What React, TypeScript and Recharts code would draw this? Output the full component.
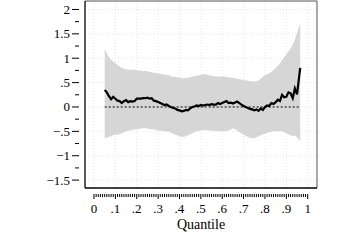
import React from 'react';
import { ComposedChart, Area, Line, XAxis, YAxis, CartesianGrid, ReferenceLine } from 'recharts';

const quantiles = [0.05,0.06,0.07,0.08,0.09,0.10,0.11,0.12,0.13,0.14,0.15,0.16,0.17,0.18,0.19,0.20,0.21,0.22,0.23,0.24,0.25,0.26,0.27,0.28,0.29,0.30,0.31,0.32,0.33,0.34,0.35,0.36,0.37,0.38,0.39,0.40,0.41,0.42,0.43,0.44,0.45,0.46,0.47,0.48,0.49,0.50,0.51,0.52,0.53,0.54,0.55,0.56,0.57,0.58,0.59,0.60,0.61,0.62,0.63,0.64,0.65,0.66,0.67,0.68,0.69,0.70,0.71,0.72,0.73,0.74,0.75,0.76,0.77,0.78,0.79,0.80,0.81,0.82,0.83,0.84,0.85,0.86,0.87,0.88,0.89,0.90,0.91,0.92,0.93,0.94,0.95,0.965];

const estimate = [0.35,0.30,0.22,0.16,0.21,0.17,0.13,0.12,0.08,0.12,0.14,0.10,0.12,0.11,0.12,0.17,0.17,0.17,0.18,0.18,0.19,0.17,0.18,0.13,0.12,0.10,0.08,0.06,0.04,0.05,0.02,0.00,-0.02,-0.03,-0.06,-0.07,-0.09,-0.08,-0.06,-0.07,-0.03,0.00,0.01,0.03,0.02,0.04,0.03,0.04,0.05,0.04,0.06,0.05,0.05,0.08,0.06,0.08,0.10,0.12,0.08,0.09,0.07,0.09,0.11,0.08,0.05,0.02,0.00,-0.02,-0.04,-0.05,-0.07,-0.05,-0.08,-0.03,-0.06,0.00,0.03,0.02,0.08,0.06,0.10,0.15,0.12,0.25,0.20,0.21,0.30,0.28,0.18,0.38,0.26,0.80];

const upper = [1.20,1.10,1.02,0.97,0.93,0.90,0.86,0.83,0.80,0.79,0.77,0.77,0.76,0.77,0.76,0.76,0.75,0.75,0.74,0.74,0.74,0.72,0.71,0.70,0.69,0.69,0.68,0.67,0.66,0.66,0.65,0.63,0.62,0.62,0.61,0.60,0.60,0.59,0.59,0.60,0.61,0.62,0.63,0.64,0.65,0.66,0.67,0.67,0.66,0.65,0.64,0.63,0.63,0.62,0.62,0.63,0.62,0.62,0.61,0.60,0.59,0.59,0.58,0.57,0.56,0.55,0.55,0.54,0.53,0.53,0.52,0.53,0.55,0.58,0.62,0.65,0.67,0.69,0.72,0.76,0.80,0.84,0.89,0.96,1.02,1.08,1.14,1.20,1.28,1.38,1.52,1.72];

const lower = [-0.64,-0.63,-0.61,-0.60,-0.58,-0.57,-0.57,-0.55,-0.54,-0.52,-0.50,-0.49,-0.48,-0.46,-0.46,-0.45,-0.45,-0.44,-0.43,-0.43,-0.44,-0.45,-0.45,-0.46,-0.47,-0.48,-0.49,-0.49,-0.50,-0.50,-0.51,-0.53,-0.55,-0.57,-0.58,-0.60,-0.61,-0.61,-0.60,-0.58,-0.56,-0.54,-0.52,-0.50,-0.49,-0.48,-0.47,-0.47,-0.48,-0.48,-0.49,-0.49,-0.50,-0.50,-0.50,-0.50,-0.50,-0.49,-0.48,-0.46,-0.44,-0.45,-0.48,-0.51,-0.54,-0.57,-0.59,-0.61,-0.63,-0.64,-0.64,-0.62,-0.60,-0.58,-0.56,-0.55,-0.53,-0.52,-0.51,-0.50,-0.50,-0.50,-0.50,-0.50,-0.52,-0.54,-0.56,-0.58,-0.60,-0.58,-0.62,-0.70];

const xMajor = [0,0.1,0.2,0.3,0.4,0.5,0.6,0.7,0.8,0.9,1];
const xLabels = ['0','.1','.2','.3','.4','.5','.6','.7','.8','.9','1'];
const yMajor = [-1.5,-1,-0.5,0,0.5,1,1.5,2];
const yLabels = ['\u22121.5','\u22121','\u2212.5','0','.5','1','1.5','2'];

// 0.00..1.00 every 0.01 (major every 10th), -1.5..2 every 0.25 (major every 2nd)
const xTicks = Array.from({ length: 101 }, (_, i) => i / 100);
const yTicks = Array.from({ length: 15 }, (_, i) => (-6 + i) / 4);

const X_DOMAIN: [number, number] = [-0.0421, 1.0435];
const Y_DOMAIN: [number, number] = [-1.662, 2.174];

const rows = quantiles.map((q, i) => ({ q, est: estimate[i], band: [lower[i], upper[i]] }));

const FONT = '"Liberation Serif", "Times New Roman", serif';

const XTick = (props: any) => {
  const { x, y, index } = props;
  const major = index % 10 === 0;
  return (
    <g>
      <line x1={x} x2={x} y1={y} y2={y + (major ? 5 : 3)} stroke="#000" strokeWidth={1} />
      {major ? (
        <text x={x} y={y + 19} textAnchor="middle" fontFamily={FONT} fontSize={13} fill="#000">
          {xLabels[index / 10]}
        </text>
      ) : null}
    </g>
  );
};

const YTick = (props: any) => {
  const { x, y, index } = props;
  const major = index % 2 === 0;
  return (
    <g>
      <line x1={x} x2={x - (major ? 7 : 4)} y1={y} y2={y} stroke="#000" strokeWidth={1} />
      {major ? (
        <text x={x - 9} y={y + 4.5} textAnchor="end" fontFamily={FONT} fontSize={13} fill="#000">
          {yLabels[index / 2]}
        </text>
      ) : null}
    </g>
  );
};

export default function App() {
  return (
    <div style={{ position: 'absolute', left: 0, top: 0 }}>
      <ComposedChart width={360} height={240} data={rows} margin={{ top: 1, right: 43, bottom: 0, left: 0 }}>
        <CartesianGrid
          stroke="#e4e4e4"
          strokeDasharray="1 2"
          horizontalValues={yMajor}
          verticalValues={xMajor}
        />
        <XAxis
          type="number"
          dataKey="q"
          domain={X_DOMAIN}
          allowDataOverflow
          ticks={xTicks}
          interval={0}
          tickLine={false}
          tickMargin={0}
          tick={<XTick />}
          axisLine={{ stroke: '#000', strokeWidth: 1.3 }}
          height={52}
          label={{ value: 'Quantile', position: 'insideBottom', offset: 11, fill: '#000', fontSize: 14, fontFamily: FONT }}
        />
        <YAxis
          type="number"
          domain={Y_DOMAIN}
          allowDataOverflow
          ticks={yTicks}
          interval={0}
          tickLine={false}
          tickMargin={0}
          tick={<YTick />}
          axisLine={{ stroke: '#000', strokeWidth: 1.3 }}
          width={85}
        />
        <ReferenceLine y={Y_DOMAIN[1]} stroke="#555" strokeWidth={1} />
        <ReferenceLine x={X_DOMAIN[1]} stroke="#555" strokeWidth={1} />
        <Area dataKey="band" type="linear" stroke="none" fill="#d6d6d6" fillOpacity={1} isAnimationActive={false} />
        <ReferenceLine
          segment={[{ x: quantiles[0], y: 0 }, { x: quantiles[quantiles.length - 1], y: 0 }]}
          stroke="#000"
          strokeWidth={1}
          strokeDasharray="2 2"
        />
        <Line dataKey="est" type="linear" stroke="#000" strokeWidth={2.2} dot={false} isAnimationActive={false} />
      </ComposedChart>
    </div>
  );
}
